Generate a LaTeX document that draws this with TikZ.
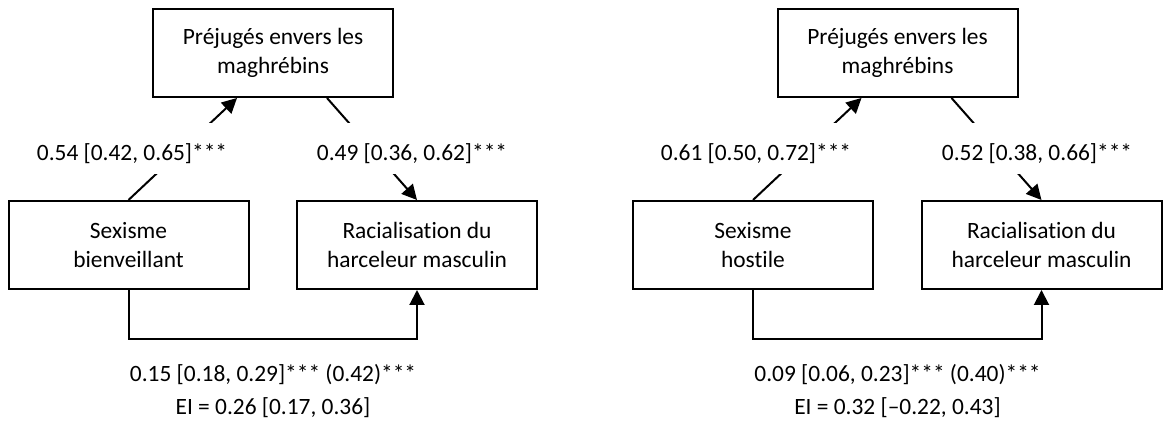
\documentclass[tikz,border=0pt]{standalone}
\usepackage{fontspec}
\setmainfont{Carlito}[Ligatures={NoCommon,NoContextual}]
\usetikzlibrary{arrows.meta}
\begin{document}
\begin{tikzpicture}[x=0.5pt,y=-0.5pt,
  box/.style={draw,line width=1pt,minimum width=120pt,minimum height=44pt,align=center,inner sep=0pt,font=\fontsize{11.7}{14.5}\selectfont},
  coef/.style={fill=white,inner xsep=2pt,inner ysep=0pt,text height=18.65pt,text depth=6.85pt,anchor=base,font=\fontsize{11.7}{14}\selectfont},
  note/.style={inner sep=0pt,font=\fontsize{11.7}{14}\selectfont},
  conn/.style={line width=1pt},
  arr/.style={conn,-{Triangle[length=7.5pt,width=7.5pt]}}]
\useasboundingbox (0,0) rectangle (1164,421);

% ---------- left panel ----------
\node[box] (topL) at (273,53) {Préjugés envers les\\maghrébins};
\node[box] (sexL) at (128.5,245) {Sexisme\\bienveillant};
\node[box] (racL) at (417,245) {Racialisation du\\harceleur masculin};

\draw[arr] (sexL.north) -- ([xshift=-18pt]topL.south);
\draw[arr] ([xshift=27pt]topL.south) -- (racL.north);
\draw[arr] (sexL.south) -- ++(0,49) -| (racL.south);

\node[coef] (aL) at (132,160.3) {0.54 [0.42, 0.65]***};
\node[coef] (bL) at (412,160.3) {0.49 [0.36, 0.62]***};
\node[note] (cL) at (273,375) {0.15 [0.18, 0.29]*** (0.42)***};
\node[note] (eL) at (273,408) {EI = 0.26 [0.17, 0.36]};

% ---------- right panel ----------
\node[box] (topR) at (897.5,53) {Préjugés envers les\\maghrébins};
\node[box] (sexR) at (753,245) {Sexisme\\hostile};
\node[box] (racR) at (1041.5,245) {Racialisation du\\harceleur masculin};

\draw[arr] (sexR.north) -- ([xshift=-18pt]topR.south);
\draw[arr] ([xshift=27pt]topR.south) -- (racR.north);
\draw[arr] (sexR.south) -- ++(0,49) -| (racR.south);

\node[coef] (aR) at (756,160.3) {0.61 [0.50, 0.72]***};
\node[coef] (bR) at (1037,160.3) {0.52 [0.38, 0.66]***};
\node[note] (cR) at (897.5,375) {0.09 [0.06, 0.23]*** (0.40)***};
\node[note] (eR) at (897.5,408) {EI = 0.32 [–0.22, 0.43]};
\end{tikzpicture}
\end{document}
